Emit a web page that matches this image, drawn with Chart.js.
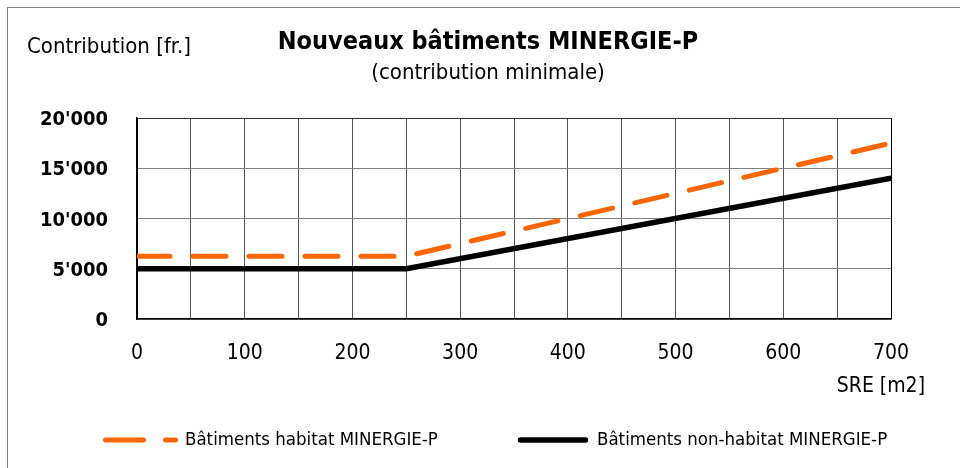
<!DOCTYPE html>
<html>
<head>
<meta charset="utf-8">
<script src="https://cdn.jsdelivr.net/npm/chart.js@4"></script>
<style>
html, body { margin: 0; padding: 0; background: #fff; }
#wrap { position: relative; width: 960px; height: 468px; }
#frame { position: absolute; left: 7px; top: 7px; right: 0; bottom: 0; border-left: 1px solid #7f7f7f; border-top: 1px solid #7f7f7f; }
canvas { position: absolute; left: 0; top: 0; }
</style>
</head>
<body>
<div id="wrap"><div id="frame"></div><canvas id="chart" width="960" height="468"></canvas></div>
<script>
const FONT = "'DejaVu Sans Condensed', 'Liberation Sans Narrow', 'DejaVu Sans', sans-serif";

// SRE (m2) break points and contributions (fr.)
const sre = [0, 250, 700];
const habitat = [6250, 6250, 17500];
const nonHabitat = [5000, 5000, 14000];
const seriesNames = ['Bâtiments habitat MINERGIE-P', 'Bâtiments non-habitat MINERGIE-P'];
const yTicks = [0, 5000, 10000, 15000, 20000];
const yTickLabels = ["0", "5'000", "10'000", "15'000", "20'000"];
const xTicks = [0, 100, 200, 300, 400, 500, 600, 700];
const xTickLabels = ['0', '100', '200', '300', '400', '500', '600', '700'];

function toPoints(ys) {
    return sre.map((x, i) => ({ x: x, y: ys[i] }));
}

// titles, axis names and legend
const decor = {
    id: 'decor',
    afterDraw(chart) {
        const ctx = chart.ctx;
        ctx.save();
        ctx.fillStyle = '#000';
        ctx.textBaseline = 'middle';

        ctx.font = 'bold 25px ' + FONT;
        ctx.textAlign = 'center';
        ctx.fillText('Nouveaux bâtiments MINERGIE-P', 488, 42);
        ctx.font = '22px ' + FONT;
        ctx.fillText('(contribution minimale)', 488, 73);

        ctx.textAlign = 'left';
        ctx.fillText('Contribution [fr.]', 27, 47);
        ctx.font = '21px ' + FONT;
        ctx.textAlign = 'right';
        ctx.fillText('SRE [m2]', 925, 387);

        // legend
        const items = [
            { x1: 105.5, x2: 175.5, tx: 185 },
            { x1: 520.5, x2: 585.5, tx: 597 }
        ];
        chart.data.datasets.forEach((ds, i) => {
            const it = items[i];
            ctx.strokeStyle = ds.borderColor;
            ctx.lineWidth = ds.borderWidth;
            ctx.lineCap = 'round';
            ctx.setLineDash(ds.borderDash && ds.borderDash.length ? [38, 22] : []);
            ctx.beginPath();
            ctx.moveTo(it.x1, 440);
            ctx.lineTo(it.x2, 440);
            ctx.stroke();
            ctx.setLineDash([]);
            ctx.textAlign = 'left';
            ctx.font = '18.5px ' + FONT;
            ctx.fillText(ds.label, it.tx, 440);
        });
        ctx.restore();
    }
};

new Chart(document.getElementById('chart'), {
    type: 'line',
    data: {
        datasets: [{
            label: seriesNames[0],
            data: toPoints(habitat),
            borderColor: '#ff6600',
            borderWidth: 5,
            borderDash: [33, 23],
            borderCapStyle: 'round',
            pointRadius: 0,
            tension: 0,
            fill: false
        }, {
            label: seriesNames[1],
            data: toPoints(nonHabitat),
            borderColor: '#000000',
            borderWidth: 5.5,
            borderCapStyle: 'round',
            pointRadius: 0,
            tension: 0,
            fill: false
        }]
    },
    options: {
        responsive: false,
        animation: false,
        layout: { padding: { left: 0, right: 69, top: 118, bottom: 99 } },
        plugins: {
            legend: { display: false },
            tooltip: { enabled: false }
        },
        scales: {
            x: {
                type: 'linear',
                min: 0,
                max: 700,
                afterFit: s => { s.height = 50; },
                border: { color: '#000', width: 1.5 },
                grid: {
                    drawTicks: false,
                    color: ctx => (ctx.tick && (ctx.tick.value === 0 || ctx.tick.value === 700)) ? '#000' : '#555',
                    lineWidth: 1
                },
                ticks: {
                    stepSize: 50,
                    autoSkip: false,
                    maxRotation: 0,
                    padding: 22,
                    color: '#000',
                    font: { family: FONT, size: 21 },
                    callback: v => {
                        const i = xTicks.indexOf(v);
                        return i >= 0 ? xTickLabels[i] : '';
                    }
                }
            },
            y: {
                min: 0,
                max: 20000,
                afterFit: s => { s.width = 137; },
                border: { color: '#000', width: 1.5 },
                grid: {
                    drawTicks: false,
                    color: ctx => (ctx.tick && ctx.tick.value === 20000) ? '#333' : '#808080',
                    lineWidth: 1
                },
                ticks: {
                    stepSize: 5000,
                    padding: 29,
                    labelOffset: 2,
                    color: '#000',
                    font: { family: FONT, size: 20, weight: 'bold' },
                    callback: v => {
                        const i = yTicks.indexOf(v);
                        return i >= 0 ? yTickLabels[i] : '';
                    }
                }
            }
        }
    },
    plugins: [decor]
});
</script>
</body>
</html>
